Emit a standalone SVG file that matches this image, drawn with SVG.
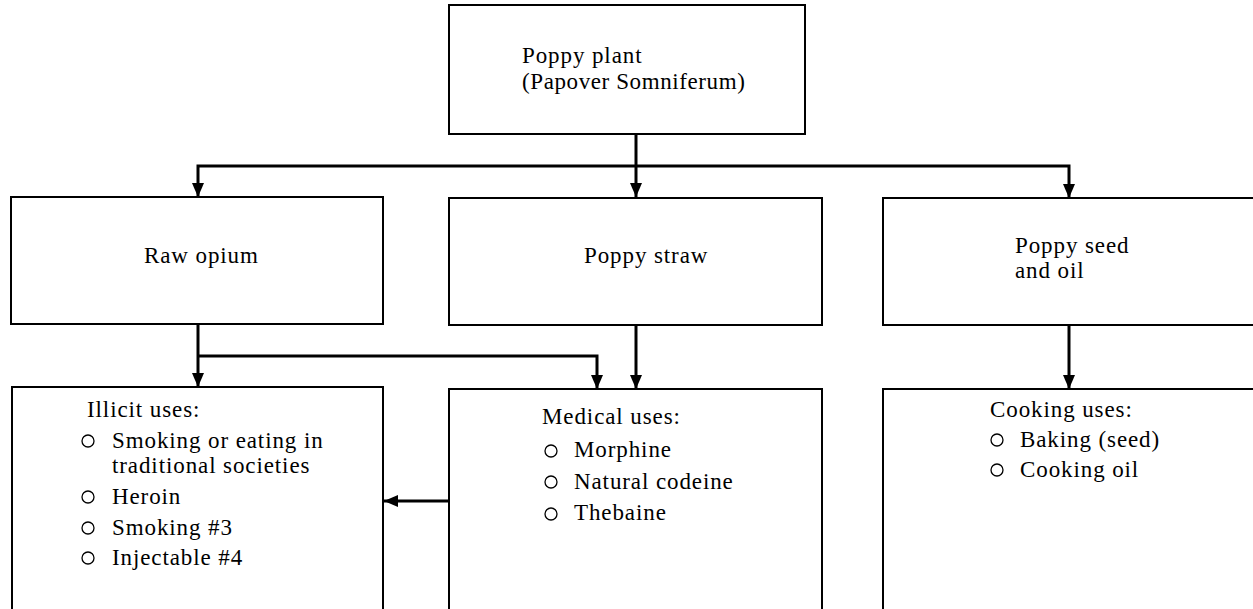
<svg xmlns="http://www.w3.org/2000/svg" width="1253" height="609" viewBox="0 0 1253 609">
<style>
.box{fill:#fff;stroke:#000;stroke-width:2}
.t{font-family:"Liberation Serif","Times New Roman",serif;font-size:23px;letter-spacing:0.9px;fill:#000}
.c{stroke:#000;stroke-width:3;fill:none}
.b{fill:none;stroke:#000;stroke-width:1.3}
</style>
<defs>
<marker id="ah" viewBox="0 0 14 12" refX="14" refY="6" markerWidth="14" markerHeight="12" markerUnits="userSpaceOnUse" orient="auto">
<path d="M0,0 L14,6 L0,12 z" fill="#000"/>
</marker>
</defs>
<rect width="1253" height="609" fill="#fff"/>
<g id="connectors">
<path class="c" d="M636,134 V197" marker-end="url(#ah)"/>
<path class="c" d="M636,166 H198 V197" marker-end="url(#ah)"/>
<path class="c" d="M636,166 H1069 V198" marker-end="url(#ah)"/>
<path class="c" d="M198,324 V387" marker-end="url(#ah)"/>
<path class="c" d="M198,356 H597 V389" marker-end="url(#ah)"/>
<path class="c" d="M636,325 V389" marker-end="url(#ah)"/>
<path class="c" d="M1069,325 V389" marker-end="url(#ah)"/>
<path class="c" d="M449,501 H384" marker-end="url(#ah)"/>
</g>
<g id="poppy-plant">
<rect class="box" x="449" y="5" width="356" height="129"/>
<text class="t" x="522" y="63">Poppy plant</text>
<text class="t" x="522" y="89" style="letter-spacing:0.6px">(Papover Somniferum)</text>
</g>
<g id="raw-opium">
<rect class="box" x="11" y="197" width="372" height="127"/>
<text class="t" x="144" y="263">Raw opium</text>
</g>
<g id="poppy-straw">
<rect class="box" x="449" y="198" width="373" height="127"/>
<text class="t" x="584" y="263">Poppy straw</text>
</g>
<g id="poppy-seed">
<rect class="box" x="883" y="198" width="380" height="127"/>
<text class="t" x="1015" y="253">Poppy seed</text>
<text class="t" x="1015" y="278">and oil</text>
</g>
<g id="illicit-uses">
<rect class="box" x="12" y="387" width="371" height="240"/>
<text class="t" x="87" y="417">Illicit uses:</text>
<circle class="b" cx="88" cy="441" r="6"/>
<text class="t" x="112" y="448">Smoking or eating in</text>
<text class="t" x="112" y="473">traditional societies</text>
<circle class="b" cx="88" cy="497" r="6"/>
<text class="t" x="112" y="504">Heroin</text>
<circle class="b" cx="88" cy="528" r="6"/>
<text class="t" x="112" y="535">Smoking #3</text>
<circle class="b" cx="88" cy="558" r="6"/>
<text class="t" x="112" y="565">Injectable #4</text>
</g>
<g id="medical-uses">
<rect class="box" x="449" y="389" width="373" height="240"/>
<text class="t" x="542" y="424">Medical uses:</text>
<circle class="b" cx="551" cy="451" r="6"/>
<text class="t" x="574" y="457">Morphine</text>
<circle class="b" cx="551" cy="482" r="6"/>
<text class="t" x="574" y="489">Natural codeine</text>
<circle class="b" cx="551" cy="514" r="6"/>
<text class="t" x="574" y="520">Thebaine</text>
</g>
<g id="cooking-uses">
<rect class="box" x="883" y="389" width="380" height="240"/>
<text class="t" x="990" y="417">Cooking uses:</text>
<circle class="b" cx="997" cy="440" r="6"/>
<text class="t" x="1020" y="447">Baking (seed)</text>
<circle class="b" cx="997" cy="470" r="6"/>
<text class="t" x="1020" y="477">Cooking oil</text>
</g>
</svg>
